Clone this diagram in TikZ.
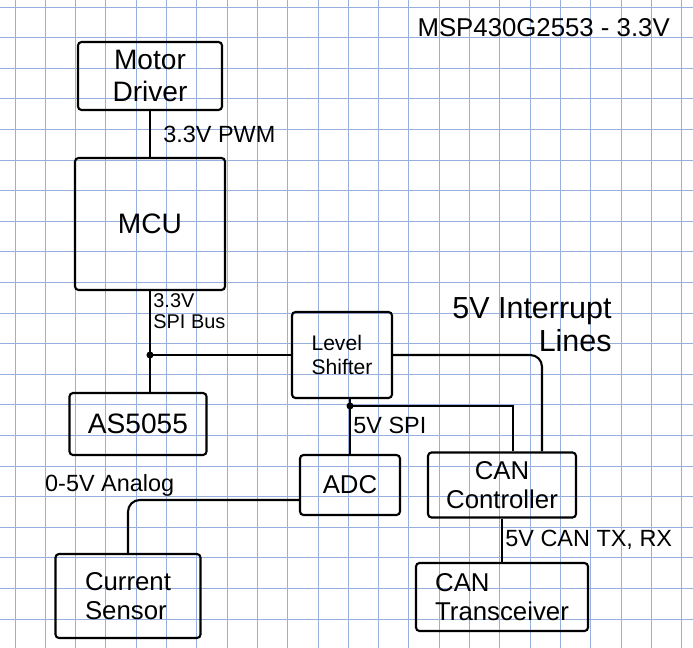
\documentclass[tikz,border=0pt]{standalone}
\usepackage{fontspec}
\setmainfont{Liberation Sans}
\usetikzlibrary{positioning}
\definecolor{gridblue}{RGB}{150,175,220}

\begin{document}
\begin{tikzpicture}[node distance=3cm, on grid, auto,
    blk/.style={draw, line width=1.8pt, rounded corners=3pt, inner sep=0pt, align=center, font=\fontsize{22}{25}\selectfont},
    lbl/.style={inner sep=2pt, align=left, font=\fontsize{20}{22}\selectfont},
    wire/.style={line width=1.8pt},
    gridln/.style={gridblue, line width=0.7pt}]
    \useasboundingbox (0,0) rectangle (20.79,-19.44);
    % squared paper
    \foreach \i in {0,...,22}
        \draw[gridln] ({0.45+0.909*\i},0) -- ({0.45+0.909*\i},-19.44);
    \foreach \j in {0,...,20}
        \draw[gridln] (0,{-0.21-0.918*\j}) -- (20.79,{-0.21-0.918*\j});

    \node[lbl, anchor=west, font=\fontsize{22}{24}\selectfont] (ttl) at (12.45,-0.84) {MSP430G2553 - 3.3V};

    \node[blk, minimum width=4.32cm, minimum height=2.04cm, font=\fontsize{24}{27}\selectfont] (drv) at (4.5,-2.28) {Motor\\Driver};
    \node[blk, minimum width=4.5cm, minimum height=3.96cm, font=\fontsize{24}{27}\selectfont] (mcu) [below=4.44cm of drv] {MCU};
    \node[blk, minimum width=4.11cm, minimum height=1.86cm, font=\fontsize{24}{27}\selectfont] (as) [below left=6cm and 0.36cm of mcu] {AS5055};
    \node[blk, minimum width=3cm, minimum height=2.58cm, align=left, font=\fontsize{18}{21}\selectfont] (ls) [below right=3.93cm and 5.76cm of mcu] {Level\\Shifter};
    \node[blk, minimum width=3cm, minimum height=1.8cm] (adc) [below right=3.9cm and 0.24cm of ls] {ADC};
    \node[blk, minimum width=4.44cm, minimum height=1.95cm] (canc) [right=4.56cm of adc] {CAN\\Controller};
    \node[blk, minimum width=5.16cm, minimum height=2.04cm, align=left] (cant) [below=3.36cm of canc] {CAN\\Transceiver};
    \node[blk, minimum width=4.35cm, minimum height=2.52cm, align=left] (cs) [below left=3.33cm and 6.66cm of adc] {Current\\Sensor};

    \path[wire] (drv) edge node[lbl, right, xshift=0.3cm] {3.3V PWM} (mcu);

    % 3.3V side of the SPI bus
    \coordinate (jn) at (mcu.south |- ls.west);
    \draw[wire] (mcu.south) -- node[lbl, right, pos=0.2, font=\fontsize{17}{18}\selectfont] {3.3V\\SPI Bus} (mcu.south |- as.north);
    \draw[wire] (jn) -- (ls.west);
    \fill (jn) circle (3pt);

    % 5V side
    \coordinate[above=1.44cm of adc.north] (spi);
    \draw[wire] (ls.south -| spi) -- (spi) -- node[lbl, right, pos=0.4] {5V SPI} (adc.north);
    \draw[wire] (spi) -| ([xshift=0.33cm]canc.north);
    \fill (spi) circle (3pt);
    \draw[wire, rounded corners=10pt] (ls.east) -| node[lbl, pos=0.5, above, align=right, xshift=-0.3cm, font=\fontsize{26}{28}\selectfont] {5V Interrupt\\Lines} ([xshift=1.2cm]canc.north);

    \draw[wire] (canc.south) -- node[lbl, right] {5V CAN TX, RX} (canc.south |- cant.north);
    \draw[wire, rounded corners=10pt] (cs.north) |- node[lbl, pos=0.5, above, xshift=-0.55cm] {0-5V Analog} ([yshift=-0.45cm]adc.west);
\end{tikzpicture}
\end{document}
